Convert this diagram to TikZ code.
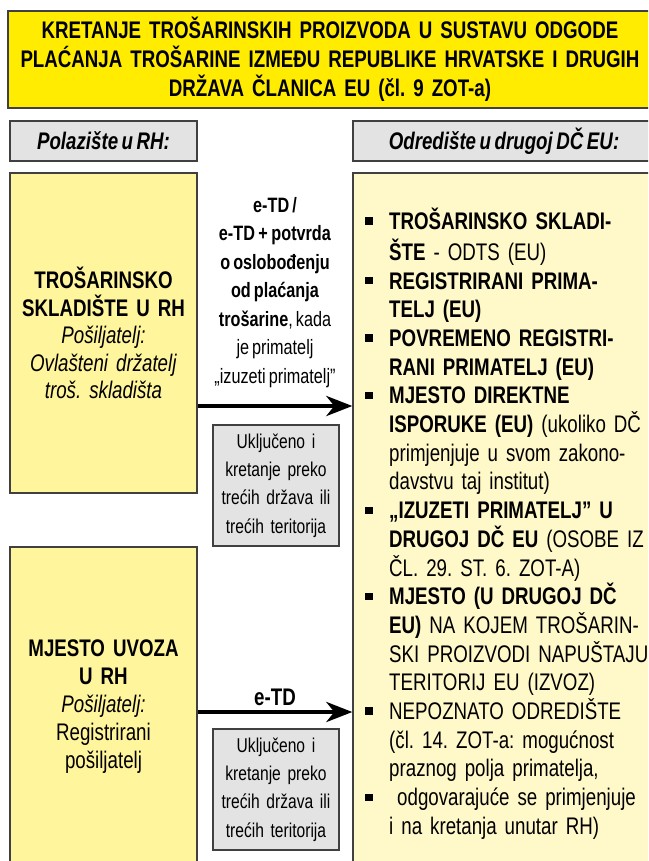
\documentclass[tikz,border=0pt]{standalone}
\usepackage{fontspec}
\setmainfont{Liberation Sans}[FakeStretch=0.78,WordSpace=0.68]
\usetikzlibrary{arrows.meta}
\definecolor{titleyellow}{HTML}{FFEC00}
\definecolor{srcyellow}{HTML}{FFF59D}
\definecolor{destyellow}{HTML}{FFF8C8}
\definecolor{boxgrey}{HTML}{E3E3E3}
\definecolor{edge}{HTML}{404040}
\newcommand\bul{\makebox[24pt][l]{\rule[4.6pt]{7.5pt}{7.5pt}}}
\newcommand\ind{\hspace*{24pt}}
\frenchspacing
\hyphenpenalty=10000
\begin{document}
\begin{tikzpicture}[x=1pt,y=-1pt,
  box/.style={draw=edge,line width=1.3pt,inner sep=0pt,align=center},
  hdr/.style={box,fill=boxgrey,minimum height=40pt,font=\fontsize{24}{26}\selectfont\bfseries\itshape},
  src/.style={box,fill=srcyellow,minimum width=187pt,minimum height=320pt,text width=180pt},
  via/.style={box,fill=boxgrey,minimum width=126pt,minimum height=121pt,text width=122pt,font=\fontsize{20}{28.3}\selectfont},
  flow/.style={line width=4.5pt,-{Stealth[length=26pt,width=20pt,inset=8pt]}}]
\useasboundingbox (0,0) rectangle (648,861);
\clip (0,0) rectangle (648,861);

\node[box,fill=titleyellow,minimum width=644pt,minimum height=97pt,text width=636pt,font=\fontsize{24}{29}\selectfont\bfseries] (t) at (330,59.5) {KRETANJE TROŠARINSKIH PROIZVODA U SUSTAVU ODGODE\\PLAĆANJA TROŠARINE IZMEĐU REPUBLIKE HRVATSKE I DRUGIH\\DRŽAVA ČLANICA EU (čl. 9 ZOT-a)};

\node[hdr,minimum width=187pt] (h1) at (103.5,141) {Polazište u RH:};
\node[hdr,minimum width=302pt] (h2) at (504,141) {Odredište u drugoj DČ EU:};

\node[src,font=\fontsize{24}{27.5}\selectfont] (a) at (103.5,333) {\textbf{TROŠARINSKO}\\\textbf{SKLADIŠTE U RH}\\\textit{Pošiljatelj:}\\\textit{Ovlašteni držatelj}\\\textit{troš. skladišta}};
\node[src,font=\fontsize{24}{28}\selectfont] (c) at (103.5,707) {\textbf{MJESTO UVOZA}\\\textbf{U RH}\\\textit{Pošiljatelj:}\\Registrirani\\pošiljatelj};

\node[box,fill=destyellow,minimum width=302pt,minimum height=720pt] (b) at (504,533) {};
\node[anchor=north west,inner sep=0pt,align=left,text width=300pt,font=\fontsize{24}{28.7}\selectfont] (l) at (365,207.5) {\strut\bul\textbf{TROŠARINSKO SKLADI-}\\
\ind\textbf{ŠTE} - ODTS (EU)\\
\bul\textbf{REGISTRIRANI PRIMA-}\\
\ind\textbf{TELJ (EU)}\\
\bul\textbf{POVREMENO REGISTRI-}\\
\ind\textbf{RANI PRIMATELJ (EU)}\\
\bul\textbf{MJESTO DIREKTNE}\\
\ind\textbf{ISPORUKE (EU)} (ukoliko DČ\\
\ind primjenjuje u svom zakono-\\
\ind davstvu taj institut)\\
\bul\textbf{„IZUZETI PRIMATELJ” U}\\
\ind\textbf{DRUGOJ DČ EU} (OSOBE IZ\\
\ind ČL. 29. ST. 6. ZOT-A)\\
\bul\textbf{MJESTO (U DRUGOJ DČ}\\
\ind\textbf{EU)} NA KOJEM TROŠARIN-\\
\ind SKI PROIZVODI NAPUŠTAJU\\
\ind TERITORIJ EU (IZVOZ)\\
\bul NEPOZNATO ODREDIŠTE\\
\ind (čl. 14. ZOT-a: mogućnost\\
\ind praznog polja primatelja,\\
\bul\ odgovarajuće se primjenjuje\\
\ind i na kretanja unutar RH)};

\node[align=center,font=\fontsize{20.8}{28.5}\selectfont] (e1) at (275,292.5) {\textbf{e-TD /}\\\textbf{e-TD\,+\,potvrda}\\\textbf{o oslobođenju}\\\textbf{od plaćanja}\\\textbf{trošarine}, kada\\je primatelj\\„izuzeti primatelj”};
\node[via] (v1) at (276,485.5) {Uključeno i\\kretanje preko\\trećih država ili\\trećih teritorija};
\node[font=\fontsize{24}{26}\selectfont\bfseries] (e2) at (275,697) {e-TD};
\node[via] (v2) at (276,789.5) {Uključeno i\\kretanje preko\\trećih država ili\\trećih teritorija};

\coordinate (p1) at (0,406);
\coordinate (p2) at (0,712);
\draw[flow] (a.east |- p1) -- (b.west |- p1);
\draw[flow] (c.east |- p2) -- (b.west |- p2);
\end{tikzpicture}
\end{document}
